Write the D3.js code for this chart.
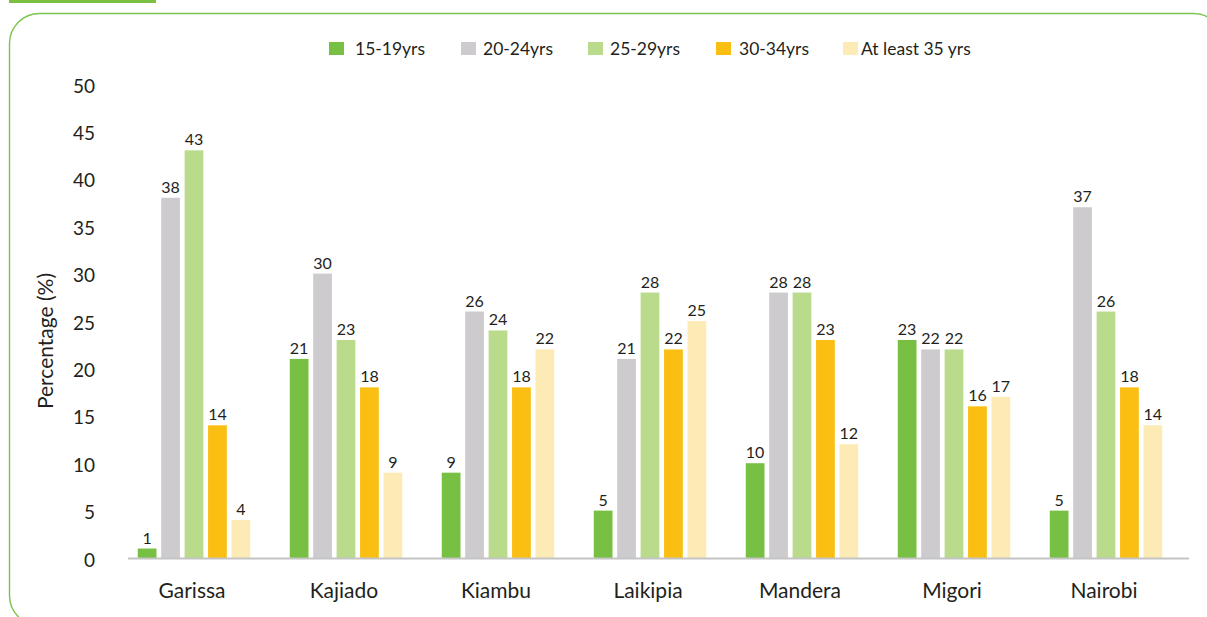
<!DOCTYPE html>
<html>
<head>
<meta charset="utf-8">
<script src="https://cdn.jsdelivr.net/npm/d3@7"></script>
<style>
  html, body { margin: 0; padding: 0; background: #ffffff; }
  svg { display: block; }
  text { font-family: Lato, "Open Sans", sans-serif; fill: #231f20; }
</style>
</head>
<body>
<svg id="chart" width="1207" height="617"></svg>
<script>
// ---- Data ----
const counties = ["Garissa", "Kajiado", "Kiambu", "Laikipia", "Mandera", "Migori", "Nairobi"];
const ageGroups = ["15-19yrs", "20-24yrs", "25-29yrs", "30-34yrs", "At least 35 yrs"];
const age15_19 = [1, 21, 9, 5, 10, 23, 5];
const age20_24 = [38, 30, 26, 21, 28, 22, 37];
const age25_29 = [43, 23, 24, 28, 28, 22, 26];
const age30_34 = [14, 18, 18, 22, 23, 16, 18];
const age35plus = [4, 9, 22, 25, 12, 17, 14];
const yTicks = [0, 5, 10, 15, 20, 25, 30, 35, 40, 45, 50];
const colors = ["#78c044", "#cdcbce", "#badb8c", "#fbbf13", "#fdebb5"];

const series = [age15_19, age20_24, age25_29, age30_34, age35plus];

// ---- Layout ----
const svg = d3.select("#chart");

// frame
svg.append("rect")
  .attr("x", 9.5).attr("y", 13.5)
  .attr("width", 1214).attr("height", 612)
  .attr("rx", 30).attr("ry", 30)
  .attr("fill", "none")
  .attr("stroke", "#7dc24b")
  .attr("stroke-width", 1.4);
svg.append("rect")
  .attr("x", 9).attr("y", 0)
  .attr("width", 147).attr("height", 3)
  .attr("fill", "#7ac143");

const x = d3.scaleBand()
  .domain(counties)
  .range([118, 1182])
  .paddingInner(0.26)
  .paddingOuter(0.13);

const xInner = d3.scaleBand()
  .domain(d3.range(ageGroups.length))
  .range([0, x.bandwidth()])
  .paddingInner(0.2);

const y = d3.scaleLinear()
  .domain([0, 50])
  .range([558, 84]);

// y axis tick labels
svg.append("g").selectAll("text")
  .data(yTicks)
  .join("text")
  .attr("x", 95)
  .attr("y", d => y(d) + 1)
  .attr("text-anchor", "end")
  .attr("dominant-baseline", "central")
  .style("font-size", "19px")
  .text(d => d);

// y axis title
svg.append("text")
  .attr("transform", "translate(44,341) rotate(-90)")
  .attr("text-anchor", "middle")
  .attr("dominant-baseline", "central")
  .style("font-size", "21px")
  .text("Percentage (%)");

// bars
const groups = svg.append("g").selectAll("g")
  .data(counties)
  .join("g")
  .attr("transform", d => "translate(" + x(d) + ",0)");

groups.selectAll("rect")
  .data((d, ci) => series.map((s, si) => ({ si, v: s[ci] })))
  .join("rect")
  .attr("x", d => xInner(d.si))
  .attr("width", xInner.bandwidth())
  .attr("y", d => y(d.v))
  .attr("height", d => y(0) - y(d.v))
  .attr("fill", d => colors[d.si]);

groups.selectAll("text.val")
  .data((d, ci) => series.map((s, si) => ({ si, v: s[ci] })))
  .join("text")
  .attr("class", "val")
  .attr("x", d => xInner(d.si) + xInner.bandwidth() / 2)
  .attr("y", d => y(d.v) - 5)
  .attr("text-anchor", "middle")
  .style("font-size", "16px")
  .text(d => d.v);

// x axis line
svg.append("line")
  .attr("x1", x.range()[0] + 10).attr("x2", x.range()[1] + 7)
  .attr("y1", y(0) + 0.5).attr("y2", y(0) + 0.5)
  .attr("stroke", "#c4c4c4")
  .attr("stroke-width", 2);

// category labels
svg.append("g").selectAll("text")
  .data(counties)
  .join("text")
  .attr("x", d => x(d) + x.bandwidth() / 2 - 2)
  .attr("y", 589)
  .attr("text-anchor", "middle")
  .attr("dominant-baseline", "central")
  .style("font-size", "21px")
  .text(d => d);

// legend
const legendX = [329, 461, 588, 716, 843];
const legendTextX = [355, 483, 610, 739, 861];
const legend = svg.append("g").selectAll("g")
  .data(ageGroups)
  .join("g");
legend.append("rect")
  .attr("x", (d, i) => legendX[i])
  .attr("y", 42)
  .attr("width", 15).attr("height", 13)
  .attr("fill", (d, i) => colors[i]);
legend.append("text")
  .attr("x", (d, i) => legendTextX[i])
  .attr("y", 48.5)
  .attr("dominant-baseline", "central")
  .style("font-size", "17.5px")
  .text(d => d);
</script>
</body>
</html>
